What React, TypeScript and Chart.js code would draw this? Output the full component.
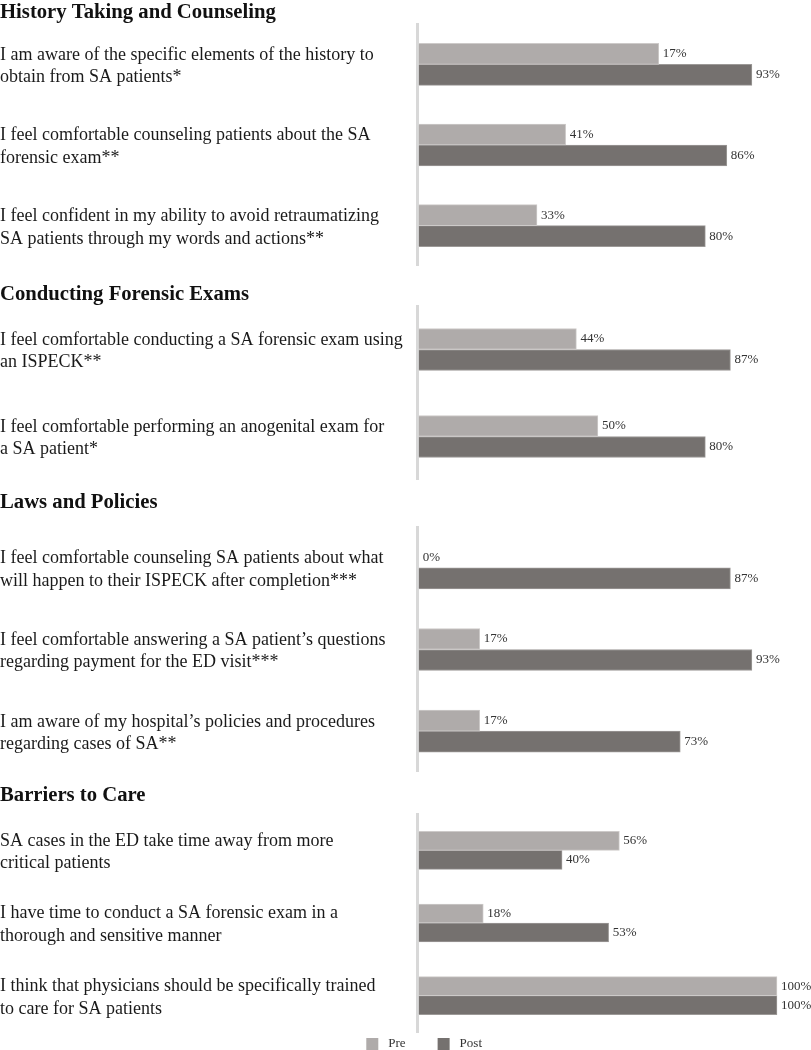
import React, { useEffect, useRef } from 'react';
import { Chart, registerables } from 'chart.js';

Chart.register(...registerables);

// ---------- data ----------
const sectionTitles = [
  'History Taking and Counseling',
  'Conducting Forensic Exams',
  'Laws and Policies',
  'Barriers to Care',
];

const questionLines: string[][] = [
  ['I am aware of the specific elements of the history to', 'obtain from SA patients*'],
  ['I feel comfortable counseling patients about the SA', 'forensic exam**'],
  ['I feel confident in my ability to avoid retraumatizing', 'SA patients through my words and actions**'],
  ['I feel comfortable conducting a SA forensic exam using', 'an ISPECK**'],
  ['I feel comfortable performing an anogenital exam for', 'a SA patient*'],
  ['I feel comfortable counseling SA patients about what', 'will happen to their ISPECK after completion***'],
  ['I feel comfortable answering a SA patient\u2019s questions', 'regarding payment for the ED visit***'],
  ['I am aware of my hospital\u2019s policies and procedures', 'regarding cases of SA**'],
  ['SA cases in the ED take time away from more', 'critical patients'],
  ['I have time to conduct a SA forensic exam in a', 'thorough and sensitive manner'],
  ['I think that physicians should be specifically trained', 'to care for SA patients'],
];

const questionSection = [0, 0, 0, 1, 1, 2, 2, 2, 3, 3, 3];

const seriesNames = ['Pre', 'Post'];

// bar lengths as drawn in the reference
const preValues = [67, 41, 33, 44, 50, 0, 17, 17, 56, 18, 100];
const postValues = [93, 86, 80, 87, 80, 87, 93, 73, 40, 53, 100];

// printed value labels
const preLabels = ['17%', '41%', '33%', '44%', '50%', '0%', '17%', '17%', '56%', '18%', '100%'];
const postLabels = ['93%', '86%', '80%', '87%', '80%', '87%', '93%', '73%', '40%', '53%', '100%'];

// ---------- styles / layout ----------
const SERIF = '"Liberation Serif", "Times New Roman", serif';
const PRE_COLOR = '#afabaa';
const POST_COLOR = '#75716f';
const PRE_BORDER = '#cdcac9';
const POST_BORDER = '#9c9997';
const TITLE_SIZE = 20.7;

const layouts = [
  { height: 266, titleTop: 2, titleBottom: 1.3, bottom: 0, bar: 21, legend: false },
  { height: 214, titleTop: 18, titleBottom: 1.3, bottom: 0, bar: 21, legend: false },
  { height: 292, titleTop: 12, titleBottom: 14.3, bottom: 0, bar: 21, legend: false },
  { height: 278, titleTop: 13, titleBottom: 8.3, bottom: 18, bar: 19, legend: true },
];

const valueLabelPlugin = {
  id: 'valueLabels',
  afterDatasetsDraw(chart: any) {
    const ctx = chart.ctx;
    ctx.save();
    ctx.font = `13px ${SERIF}`;
    ctx.fillStyle = '#333333';
    ctx.textAlign = 'left';
    ctx.textBaseline = 'middle';
    chart.data.datasets.forEach((ds: any, di: number) => {
      const meta = chart.getDatasetMeta(di);
      meta.data.forEach((bar: any, i: number) => {
        const { x, y } = bar.getProps(['x', 'y'], true);
        ctx.fillText(ds.valueLabels[i], x + 4, y);
      });
    });
    ctx.restore();
  },
};

const bottomLegendPlugin = {
  id: 'bottomLegend',
  afterDraw(chart: any) {
    const ctx = chart.ctx;
    ctx.save();
    ctx.font = `13px ${SERIF}`;
    ctx.textBaseline = 'middle';
    ctx.textAlign = 'left';
    const box = 12;
    const gapText = 10;
    const gapItem = 32;
    const items = chart.data.datasets.map((ds: any) => ({ text: ds.label, color: ds.backgroundColor }));
    const widths = items.map((it: any) => box + gapText + ctx.measureText(it.text).width);
    const total = widths.reduce((a: number, b: number) => a + b, 0) + gapItem * (items.length - 1);
    let x = chart.width * 0.523 - total / 2;
    const top = chart.chartArea.bottom + 6;
    items.forEach((it: any, i: number) => {
      ctx.fillStyle = it.color;
      ctx.fillRect(x, top, box, box);
      ctx.fillStyle = '#333333';
      ctx.fillText(it.text, x + box + gapText, top + box / 2);
      x += widths[i] + gapItem;
    });
    ctx.restore();
  },
};

function SectionChart({ index }: { index: number }) {
  const ref = useRef<HTMLCanvasElement>(null);
  const lay = layouts[index];

  useEffect(() => {
    if (!ref.current) return;
    const idx = questionSection.map((s, i) => (s === index ? i : -1)).filter((i) => i >= 0);
    const chart = new Chart(ref.current, {
      type: 'bar',
      data: {
        labels: idx.map((i) => questionLines[i]),
        datasets: [
          {
            label: seriesNames[0],
            data: idx.map((i) => preValues[i]),
            valueLabels: idx.map((i) => preLabels[i]),
            backgroundColor: PRE_COLOR,
            borderColor: PRE_BORDER,
            borderWidth: 1,
            barThickness: lay.bar,
          } as any,
          {
            label: seriesNames[1],
            data: idx.map((i) => postValues[i]),
            valueLabels: idx.map((i) => postLabels[i]),
            backgroundColor: POST_COLOR,
            borderColor: POST_BORDER,
            borderWidth: 1,
            barThickness: lay.bar,
          } as any,
        ],
      },
      options: {
        indexAxis: 'y',
        responsive: false,
        animation: false,
        events: [],
        layout: { padding: { left: 0, right: 0, top: 0, bottom: lay.bottom } },
        scales: {
          x: { display: false, min: -0.5, max: 109.5 },
          y: {
            grid: { display: false, drawTicks: false },
            border: { display: true, color: '#d8d8d8', width: 3 },
            ticks: {
              autoSkip: false,
              crossAlign: 'far',
              padding: 0,
              labelOffset: 2,
              color: '#1a1a1a',
              font: { family: SERIF, size: 18, lineHeight: 1.25 },
            },
            afterFit: (scale: any) => {
              scale.width = 417;
              scale.paddingTop = 0;
              scale.paddingBottom = 0;
            },
          },
        },
        plugins: {
          legend: { display: false },
          tooltip: { enabled: false },
          title: {
            display: true,
            text: sectionTitles[index],
            align: 'start',
            color: '#111111',
            font: { family: SERIF, size: TITLE_SIZE, weight: 'bold', lineHeight: 1 },
            padding: { top: lay.titleTop, bottom: lay.titleBottom },
          },
        },
      } as any,
      plugins: lay.legend ? [valueLabelPlugin, bottomLegendPlugin] : [valueLabelPlugin],
    });
    return () => chart.destroy();
  }, [index]);

  return <canvas ref={ref} width={811} height={lay.height} style={{ display: 'block' }} />;
}

export default function App() {
  useEffect(() => {
    document.body.style.margin = '0';
    document.body.style.overflow = 'hidden';
  }, []);
  return (
    <div style={{ width: 811, height: 1050, background: '#ffffff' }}>
      {sectionTitles.map((_, i) => (
        <SectionChart key={i} index={i} />
      ))}
    </div>
  );
}
